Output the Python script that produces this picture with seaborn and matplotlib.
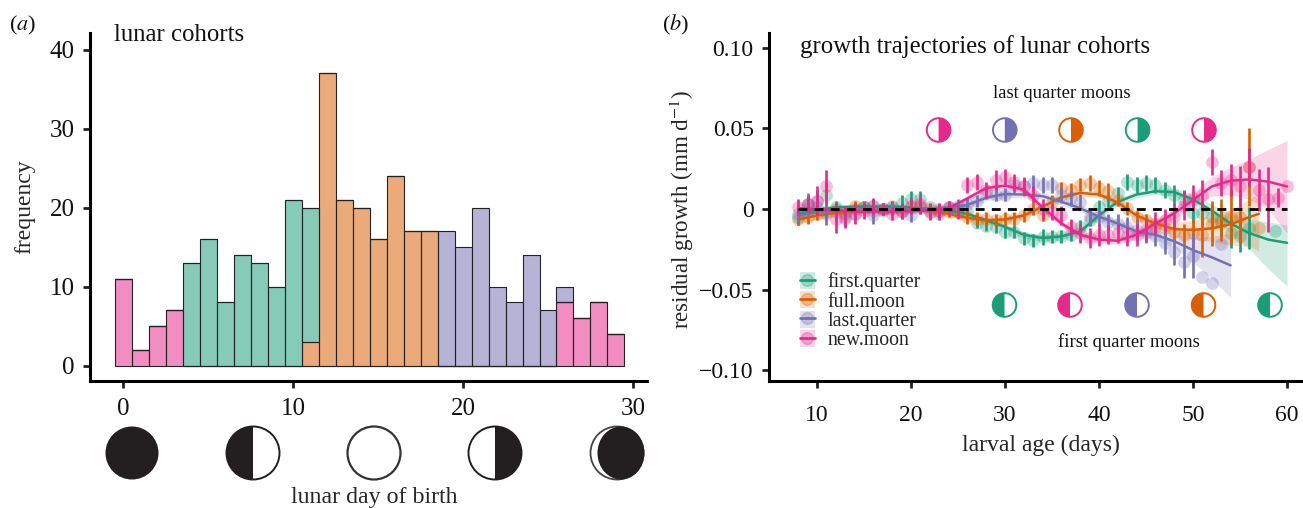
import numpy as np
import pandas as pd
import matplotlib
matplotlib.use("Agg")
import matplotlib.pyplot as plt
from matplotlib.patches import Circle, Wedge, Patch, Ellipse
from matplotlib.lines import Line2D
from matplotlib.legend_handler import HandlerTuple
import seaborn as sns

# ---------- panel (a) data ----------
days_new1 = [0, 1, 2, 3]
counts_new1 = [11, 2, 5, 7]
days_first = [4, 5, 6, 7, 8, 9, 10, 11]
counts_first = [13, 16, 8, 14, 13, 10, 21, 17]
days_full = [11, 12, 13, 14, 15, 16, 17, 18]
counts_full = [3, 37, 21, 20, 16, 24, 17, 17]
days_last = [19, 20, 21, 22, 23, 24, 25, 26]
counts_last = [17, 15, 20, 10, 8, 14, 7, 2]
days_new2 = [26, 27, 28, 29]
counts_new2 = [8, 6, 8, 4]

# ---------- panel (b) data (values in 0.001 mm/d) ----------
grid = list(range(8, 61, 2))
fq_curve = [-3, -0.5, 1, 1.5, 1.5, 1.5, 1, 0, -1, -3, -7, -11, -16, -18, -17, -14, -4, 4.5, 9, 11, 10.5, 6, -1, -9, -15, -19, -21]
fq_lo = [-6, -2.5, -0.5, 0, 0, 0, -0.5, -1.5, -2.5, -4.5, -8.5, -12.5, -18, -20, -19, -16, -6, 2.5, 7, 9, 8, 3, -5, -15, -25, -37, -48]
fq_hi = [0, 1.5, 2.5, 3, 3, 3, 2.5, 1.5, 0.5, -1.5, -5.5, -9.5, -14, -16, -15, -12, -2, 6.5, 11, 13, 13, 9, 3, -3, -6, -8, -10]
fm_grid = list(range(8, 57, 2)) + [57]
fm_curve = [-6.5, -4, -2.5, -1.5, -1, -1, -1, -1, -3, -5.5, -7, -6.5, -4, 1.5, 7.2, 10, 9, 4, -4, -9, -12.5, -13, -12, -9.5, -5, -3]
fm_lo = [-9.5, -6.5, -4.5, -3, -2.5, -2.5, -2.5, -2.5, -4.5, -7, -8.5, -8, -5.5, -0.5, 5.2, 8, 7, 2, -6.5, -12, -16.5, -19, -20, -22.5, -23, -26]
fm_hi = [-3.5, -1.5, -0.5, 0, 0.5, 0.5, 0.5, 0.5, -1.5, -4, -5.5, -5, -2.5, 3.5, 9.2, 12, 11, 6, -1.5, -6, -8.5, -7, -4, -0.5, 6, 10]
lq_grid = list(range(8, 55, 2))
lq_curve = [-4, -2, -1, -0.5, -0.5, -0.5, -0.5, 0, 1, 2.5, 7, 9.3, 9, 8, 4.5, 0.5, -4.8, -9, -14, -16, -20, -25.5, -30, -35]
lq_lo = [-7, -4, -2.5, -2, -2, -2, -2, -1.5, -0.5, 0.5, 5, 7, 7, 6, 2.5, -1.5, -7, -11, -16, -19, -24, -33, -43, -55]
lq_hi = [-1, 0, 0.5, 1, 1, 1, 1, 1.5, 2.5, 4.5, 9, 11.5, 11, 10, 6.5, 2.5, -2.5, -7, -12, -13, -16, -18, -17, -15]
nm_curve = [0.5, 0, -1, -1.5, -1.5, -1.5, -1.2, -0.8, 0.5, 6.6, 13, 14.5, 12, 1, -9, -16, -19, -19.7, -16, -9, -2.7, 5.6, 14, 17.6, 18.4, 17, 14]
nm_lo = [-3, -2, -2.5, -3, -3, -3, -3, -2.3, -1, 5, 11, 12.5, 10, -1, -11, -18, -21.5, -22, -18.5, -11.5, -6, 1, 8, 9, 6, 0, -15]
nm_hi = [4, 2, 0.5, 0, 0, 0, 0.6, 0.7, 2, 8.2, 15, 16.5, 14, 3, -7, -14, -16.5, -17.4, -13.5, -6.5, 0.6, 10, 20, 26, 31, 37, 42.5]

fq_age = list(range(8, 57)) + [58.7]
fq_y = [-5, 3, 1, 9, 1, -2, 0, 1, 2, -1, 0, 4, 6, 6, 1, 0, 0.5, 0, -1,
        -8.9, -10.4, -11, -14, -14, -18.2, -19.3, -17.2, -17.2, -16.8, -16, -11, -6.8, 1.4, 5, 9.7, 17, 15, 16, 15, 11.8, 8.7, 5.6, -2.7, -2.7, -4.8, -8.9, -15, -17, -12, -13.7]
fq_err = [5, 5, 5, 7, 4, 4, 3, 3, 4, 3, 3, 5, 5, 5, 3, 3, 3, 3, 3,
          3, 3, 4, 4, 4, 4, 4, 5, 4, 4, 4, 4, 4, 4, 4, 4, 5, 5, 5, 5, 5, 6, 6, 6, 7, 7, 8, 9, 10, 13, 0]
fm_age = list(range(8, 58))
fm_y = [-6, -5, -3, -2, 0, -3, 2, 1, -1, 0, 2, -1, 1, 2, 0, -1, -2,
        -2, -5, -6, -6, -7, -6, -6, -4, 0, -3.7, 4.5, 13, 12, 15, 16, 13, 11, 5.6, 0.5, -5, -7, -11, -12, -14, -16, -15, -16, -9, -7, -5, -5, 26, -12]
fm_err = [4, 4, 4, 3, 3, 4, 3, 3, 3, 3, 3, 3, 3, 3, 3, 3, 3,
          3, 4, 4, 4, 4, 4, 4, 4, 4, 4, 4, 4, 4, 4, 5, 5, 5, 4, 4, 4, 4, 5, 5, 7, 7, 9, 14, 14, 13, 17, 16, 24, 0]
lq_age = list(range(8, 54))
lq_y = [-3, 3, 5, -3, -2, -6, -3, 1, -4, 0, 1, -2, -4, 1, -2, -3, 1, 2, 3, 5,
        10, 9, 9, 15, 14, 16, 15, 15, 9, 7, 4.5, -5, -5, -8, -9, -11, -13, -15, -17, -21, -27, -33, -29, -42, -46, -22]
lq_err = [6, 7, 7, 7, 6, 5, 4, 4, 5, 4, 4, 4, 4, 4, 4, 4, 4, 4, 4, 4,
          4, 4, 4, 5, 6, 5, 5, 5, 5, 5, 5, 5, 5, 5, 6, 6, 6, 6, 6, 7, 8, 10, 14, 0, 0, 0]
nm_age = list(range(8, 61))
nm_y = [1, 3, 5, 14, -6, -5, -3, -1, 2, 0, -3, -1, 2, 3, -2, -1, 1, -2,
        15, 17, 12, 18, 20, 17, 14, 9, 0, -2, -4, -11, -15, -18, -16, -16, -15, -17, -16, -13, -9, -7, -5, 2, 7, 9, 29, 16, 18, 14, 26, 12, 6, 7, 14]
nm_err = [5, 5, 9, 10, 9, 7, 6, 5, 5, 4, 4, 5, 5, 6, 5, 5, 4, 4,
          5, 5, 5, 6, 5, 5, 5, 5, 6, 5, 6, 5, 6, 6, 7, 6, 6, 6, 7, 7, 7, 7, 8, 9, 8, 9, 8, 8, 10, 13, 12, 13, 20, 6, 0]

# ---------- labels ----------
cohort_names = ["first.quarter", "full.moon", "last.quarter", "new.moon"]
cohort_colors = ["#1b9e77", "#d95f02", "#7570b3", "#e7298a"]
moon_top_colors = ["#e7298a", "#7570b3", "#d95f02", "#1b9e77", "#e7298a"]
moon_bottom_colors = ["#1b9e77", "#e7298a", "#7570b3", "#d95f02", "#1b9e77"]
a_xticks = [0, 10, 20, 30]
a_yticks = [0, 10, 20, 30, 40]
b_xticks = [10, 20, 30, 40, 50, 60]
b_yticks = [-0.10, -0.05, 0, 0.05, 0.10]
b_ylabels = ["\u22120.10", "\u22120.05", "0", "0.05", "0.10"]

sns.set_theme(style="ticks")
plt.rcParams["font.family"] = ["Liberation Serif", "DejaVu Serif"]
plt.rcParams["mathtext.fontset"] = "stix"
plt.rcParams["axes.unicode_minus"] = True

W, H = 1303, 508
fig = plt.figure(figsize=(W / 100, H / 100), dpi=100, facecolor="white")


def box(l, t, r, b):
    return [l / W, 1 - b / H, (r - l) / W, (b - t) / H]


ax = fig.add_axes(box(90, 33, 647, 381))
ax2 = fig.add_axes(box(769, 33, 1303, 381))

# ---- panel a ----
hist = pd.concat([
    pd.DataFrame({"day": days_new1 + days_new2, "n": counts_new1 + counts_new2, "cohort": "new.moon"}),
    pd.DataFrame({"day": days_full, "n": counts_full, "cohort": "full.moon"}),
    pd.DataFrame({"day": days_first, "n": counts_first, "cohort": "first.quarter"}),
    pd.DataFrame({"day": days_last, "n": counts_last, "cohort": "last.quarter"}),
])
pal = dict(zip(cohort_names, cohort_colors))
sns.histplot(data=hist, x="day", weights="n", hue="cohort", multiple="stack", discrete=True,
             hue_order=["last.quarter", "first.quarter", "full.moon", "new.moon"], palette=pal,
             alpha=0.53, edgecolor="#222222", linewidth=0.8, legend=False, ax=ax)
ax.set_xlim(-1.97, 30.83)
ax.set_ylim(-1.94, 42.1)
ax.set_xticks(a_xticks)
ax.set_yticks(a_yticks)
ax.set_xlabel("lunar day of birth", fontsize=17.2, va="center")
ax.xaxis.set_label_coords((374 - 90) / 557, -(498 - 381) / 348)
ax.set_ylabel("frequency", fontsize=17, va="center")
ax.yaxis.set_label_coords((25 - 90) / 557, (381 - 207) / 348)

# ---- panel b ----
series = [
    (fq_age, fq_y, fq_err, grid, fq_curve, fq_lo, fq_hi),
    (fm_age, fm_y, fm_err, fm_grid, fm_curve, fm_lo, fm_hi),
    (lq_age, lq_y, lq_err, lq_grid, lq_curve, lq_lo, lq_hi),
    (nm_age, nm_y, nm_err, grid, nm_curve, nm_lo, nm_hi),
]
for name, col, (age, y, err, g, c, lo, hi) in zip(cohort_names, cohort_colors, series):
    g, c = np.array(g, float), np.array(c) / 1000
    ax2.fill_between(g, np.array(lo) / 1000, np.array(hi) / 1000, color=col, alpha=0.2, lw=0)
    pts = pd.DataFrame({"age": age, "y": np.array(y) / 1000, "err": np.array(err) / 1000})
    sns.scatterplot(data=pts, x="age", y="y", color=col, alpha=0.3, s=85, linewidth=0, ax=ax2, legend=False)
    bars = pts[pts["err"] > 0]
    ax2.vlines(bars["age"], bars["y"] - bars["err"], bars["y"] + bars["err"], color=col, lw=1.9)
    sns.lineplot(x=g, y=c, color=col, lw=1.8, ax=ax2, legend=False, errorbar=None)
ax2.plot([8, 60], [0, 0], color="black", lw=2, ls=(0, (3.2, 2.6)), zorder=5)
ax2.set_xlim(4.9, 61.7)
ax2.set_ylim(-0.1068, 0.1093)
ax2.set_xticks(b_xticks)
ax2.set_yticks(b_yticks)
ax2.set_yticklabels(b_ylabels)
ax2.set_xlabel("larval age (days)", fontsize=17, va="center")
ax2.xaxis.set_label_coords((1041 - 769) / 534, -(445 - 381) / 348)
ax2.set_ylabel("residual growth (mm d$^{-1}$)", fontsize=16.6, va="center")
ax2.yaxis.set_label_coords((682 - 769) / 534, (381 - 209) / 348)

for a, size, xpad in ((ax, 18, 7), (ax2, 17, 12)):
    sns.despine(ax=a)
    a.spines["left"].set_linewidth(2.2)
    a.spines["bottom"].set_linewidth(2.2)
    a.spines["left"].set_color("black")
    a.spines["bottom"].set_color("black")
    a.tick_params(axis="both", length=5, width=2, color="#222222", labelsize=size, pad=6,
                  labelcolor="#111111")
    a.tick_params(axis="x", pad=xpad)
    a.set_facecolor("none")

handles = []
for col in cohort_colors:
    handles.append((Patch(facecolor=col, alpha=0.2, lw=0),
                    Line2D([], [], marker="o", ms=8.5, color=col, alpha=0.3, lw=0),
                    Line2D([], [], color=col, lw=2)))
leg = ax2.legend(handles, cohort_names, handler_map={tuple: HandlerTuple(ndivide=1, pad=0)},
                 loc="upper left", bbox_to_anchor=((800 - 769) / 534, (381 - 272) / 348),
                 frameon=False, fontsize=14.3, handlelength=0.75, handleheight=0.95, handletextpad=0.65,
                 labelspacing=-0.055, borderaxespad=0, borderpad=0)

# ---- overlay in pixel units for moons and free text ----
ov = fig.add_axes([0, 0, 1, 1], facecolor="none")
ov.set_xlim(0, W)
ov.set_ylim(H, 0)
ov.axis("off")
DARK = "#231f20"


def half_moon(x, y, r, col, fill_left):
    a1, a2 = (90, 270) if fill_left else (270, 90)
    ov.add_patch(Circle((x, y), r, fc="white", ec="none"))
    ov.add_patch(Wedge((x, y), r, -a2, -a1, fc=col, ec="none"))
    ov.add_patch(Circle((x, y), r, fc="none", ec=col, lw=1.4))


# left panel moons
ov.add_patch(Circle((132, 453), 26.5, fc=DARK, ec="none"))
half_moon(253, 453, 26.5, DARK, True)
ov.add_patch(Circle((374, 453), 26.5, fc="white", ec="#333333", lw=1.6))
half_moon(495, 453, 26.5, DARK, False)
ov.add_patch(Circle((617, 453), 26.5, fc="white", ec="#444444", lw=1.3))
ov.add_patch(Ellipse((621, 453), 47, 53, fc=DARK, ec="none"))

for x, col in zip([938.6, 1004.8, 1071, 1137.6, 1204], moon_top_colors):
    half_moon(x, 130, 11.8, col, False)
for x, col in zip([1004.5, 1070, 1137, 1203.5, 1270], moon_bottom_colors):
    half_moon(x, 305, 11.8, col, True)

txt = dict(color="#111111", va="center")
ov.text(114, 35, "lunar cohorts", fontsize=17.8, ha="left", **txt)
ov.text(800, 47, "growth trajectories of lunar cohorts", fontsize=17.8, ha="left", **txt)
ov.text(1062, 93, "last quarter moons", fontsize=13.4, ha="center", **txt)
ov.text(1129, 342, "first quarter moons", fontsize=13.4, ha="center", **txt)
ov.text(9, 25, "($\\mathit{a}$)", fontsize=16, ha="left", **txt)
ov.text(662, 25, "($\\mathit{b}$)", fontsize=16, ha="left", **txt)

fig.savefig("out.png", dpi=100)
